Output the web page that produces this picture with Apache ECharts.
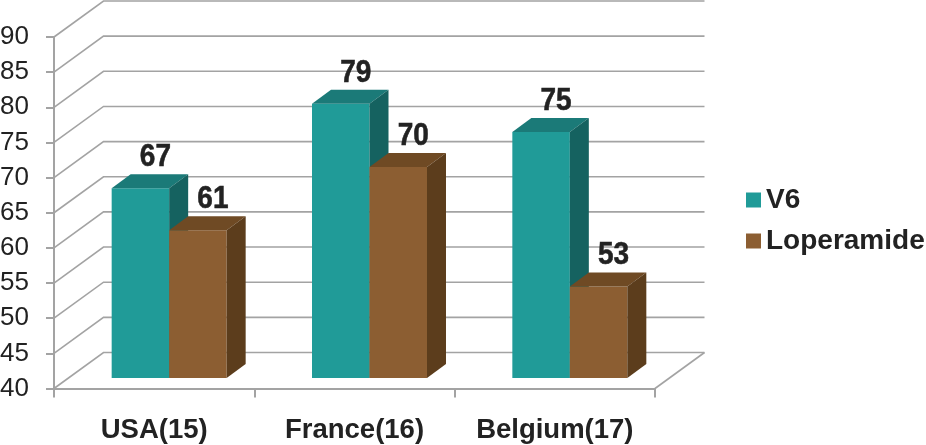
<!DOCTYPE html>
<html>
<head>
<meta charset="utf-8">
<style>
  html, body { margin: 0; padding: 0; background: #fff; }
  #chart { width: 926px; height: 445px; }
</style>
</head>
<body>
<div id="chart"></div>
<script src="https://cdn.jsdelivr.net/npm/echarts@6/dist/echarts.min.js"></script>
<script>
const categories = ['USA(15)', 'France(16)', 'Belgium(17)']
const v6Values = [67, 79, 75]
const loperamideValues = [61, 70, 53]
const yTicks = [40, 45, 50, 55, 60, 65, 70, 75, 80, 85, 90]

const fontFamily = '"Liberation Sans", Arial, sans-serif'
const textColor = '#222'
const wallColor = '#a3a3a3'

// fake 3D: the back wall sits up and right of the axis plane
const wallDx = 49.5
const wallDy = -36
const barDepthX = 19
const barDepthY = -14
const barShiftX = 15
const barShiftY = -10.5
const barWidthRatio = 0.287

function renderWall(params, api) {
  const p = api.coord([0, api.value(0)])
  const box = params.coordSys
  const left = box.x
  const right = box.x + box.width
  const y = p[1]
  const style = { stroke: wallColor, lineWidth: 1.6, fill: null }
  const children = [
    { type: 'polyline', shape: { points: [[left, y], [left + wallDx, y + wallDy], [right + wallDx, y + wallDy]] }, style }
  ]
  // floor edge on the right side
  if (params.dataIndex === 0) {
    children.push({ type: 'line', shape: { x1: right, y1: y, x2: right + wallDx, y2: y + wallDy }, style })
  }
  return { type: 'group', children }
}

function barRenderer(side, front, top, right) {
  return function (params, api) {
    const w = api.size([1, 0])[0] * barWidthRatio
    const center = api.coord([api.value(0), api.value(1)])
    const base = api.coord([api.value(0), yTicks[0]])
    const x0 = center[0] + barShiftX + (side === 0 ? -w : 0)
    const x1 = x0 + w
    const yTop = center[1] + barShiftY
    const yBase = base[1] + barShiftY
    const dx = barDepthX
    const dy = barDepthY
    return {
      type: 'group',
      children: [
        { type: 'rect', shape: { x: x0, y: yTop, width: w, height: yBase - yTop }, style: { fill: front } },
        { type: 'polygon', shape: { points: [[x0, yTop], [x1, yTop], [x1 + dx, yTop + dy], [x0 + dx, yTop + dy]] }, style: { fill: top } },
        { type: 'polygon', shape: { points: [[x1, yTop], [x1 + dx, yTop + dy], [x1 + dx, yBase + dy], [x1, yBase]] }, style: { fill: right } },
        {
          // the source picture is stretched vertically, so the value labels are too
          type: 'text',
          x: (x0 + x1) / 2 + 15,
          y: yTop + dy - 17,
          scaleY: 1.14,
          style: {
            text: String(api.value(1)),
            fill: textColor,
            stroke: textColor,
            lineWidth: 0.5,
            font: 'bold 28px ' + fontFamily,
            align: 'center',
            verticalAlign: 'middle'
          }
        }
      ]
    }
  }
}

const chart = echarts.init(document.getElementById('chart'), null, { renderer: 'canvas' })

chart.setOption({
  animation: false,
  backgroundColor: '#fff',
  grid: { left: 54, top: 37, width: 601, height: 351.5, containLabel: false, outerBoundsMode: 'none' },
  legend: {
    orient: 'vertical',
    left: 741,
    top: 181,
    itemWidth: 15,
    itemHeight: 15,
    itemGap: 13,
    icon: 'rect',
    selectedMode: false,
    data: ['V6', 'Loperamide'],
    textStyle: { fontFamily, fontSize: 28, fontWeight: 'bold', color: textColor, padding: [0, 0, 0, 0] }
  },
  xAxis: {
    type: 'category',
    data: categories,
    axisLine: { lineStyle: { color: wallColor, width: 2 } },
    axisTick: { show: true, interval: 0, length: 9, lineStyle: { color: wallColor, width: 2 } },
    axisLabel: { interval: 0, fontFamily, fontSize: 27.5, fontWeight: 'bold', color: textColor, margin: 28 }
  },
  yAxis: {
    type: 'value',
    min: 40,
    max: 90,
    interval: 5,
    axisLine: { show: true, lineStyle: { color: wallColor, width: 2 } },
    axisTick: { show: true, length: 8, lineStyle: { color: wallColor, width: 2 } },
    axisLabel: { fontFamily, fontSize: 26, color: textColor, margin: 25 },
    splitLine: { show: false }
  },
  series: [
    {
      name: 'wall',
      type: 'custom',
      clip: false,
      renderItem: renderWall,
      data: yTicks.map(t => [t]),
      encode: { y: 0 },
      silent: true,
      z: 1
    },
    {
      name: 'V6',
      type: 'custom',
      clip: false,
      renderItem: barRenderer(0, '#209b98', '#1b7a78', '#156260'),
      itemStyle: { color: '#209b98' },
      data: v6Values.map((v, i) => [i, v]),
      encode: { x: 0, y: 1 },
      z: 2
    },
    {
      name: 'Loperamide',
      type: 'custom',
      clip: false,
      renderItem: barRenderer(1, '#8c5e32', '#6f4a24', '#5c3d1c'),
      itemStyle: { color: '#8c5e32' },
      data: loperamideValues.map((v, i) => [i, v]),
      encode: { x: 0, y: 1 },
      z: 3
    }
  ]
})
</script>
</body>
</html>
